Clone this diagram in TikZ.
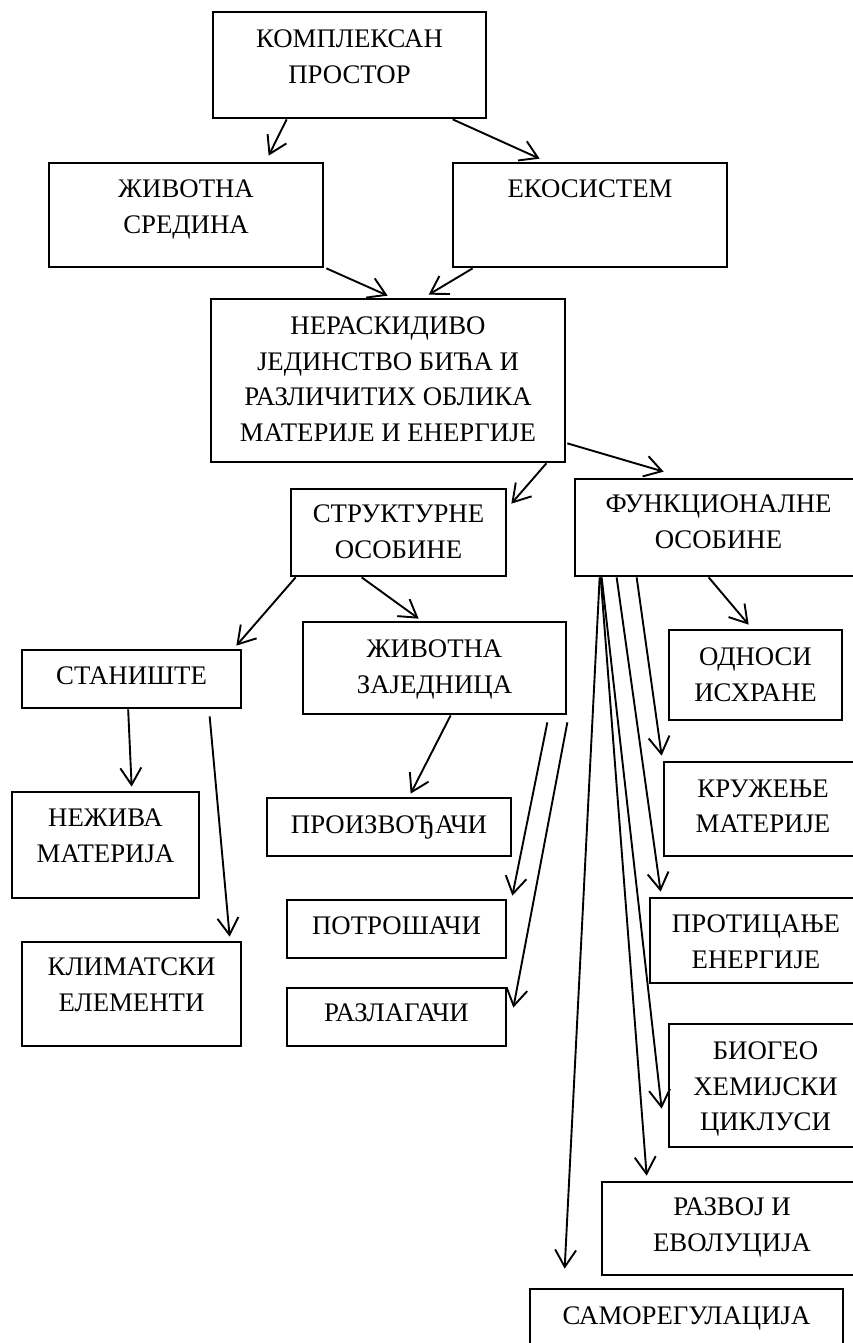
\documentclass[tikz,border=0pt]{standalone}
\usepackage{fontspec}
\setmainfont{Liberation Serif}
\usetikzlibrary{arrows.meta,calc,fit}
\tikzset{
  box/.style={draw, rectangle, line width=2.7pt, inner sep=0pt},
  lbl/.style={align=center, inner sep=0pt, anchor=north,
    font=\fontsize{26.8}{35.5}\selectfont},
  link/.style={line width=1.9pt, -{Straight Barb[length=17pt,width=21pt]}},
}
\begin{document}
\begin{tikzpicture}[x=1pt,y=-1pt]
\useasboundingbox (0,0) rectangle (853,1343);
\clip (0,0) rectangle (853,1343);

% boxes
\node[box, fit={(213,12) (486,118)}]   (kp)   {};
\node[box, fit={(49,163) (323,267)}]   (zs)   {};
\node[box, fit={(453,163) (727,267)}]  (eko)  {};
\node[box, fit={(211,299) (565,462)}]  (ner)  {};
\node[box, fit={(291,489) (506,576)}]  (str)  {};
\node[box, fit={(575,479) (862,576)}]  (fun)  {};
\node[box, fit={(22,650) (241,708)}]   (sta)  {};
\node[box, fit={(303,622) (566,714)}]  (zz)   {};
\node[box, fit={(669,630) (842,720)}]  (odn)  {};
\node[box, fit={(12,792) (199,898)}]   (nez)  {};
\node[box, fit={(267,798) (511,856)}]  (pro)  {};
\node[box, fit={(664,762) (862,856)}]  (kru)  {};
\node[box, fit={(287,900) (506,958)}]  (pot)  {};
\node[box, fit={(287,988) (506,1046)}] (raz)  {};
\node[box, fit={(22,942) (241,1046)}]  (kli)  {};
\node[box, fit={(650,898) (862,983)}]  (prot) {};
\node[box, fit={(669,1024) (862,1147)}] (bio) {};
\node[box, fit={(602,1182) (862,1275)}] (rev) {};
\node[box, fit={(530,1289) (843,1360)}] (sam) {};

% texts (top of the capitals about 18pt below the box top)
\node[lbl] (kp-l)   at ($(kp.north)+(0,19)$)   {КОМПЛЕКСАН\\ПРОСТОР};
\node[lbl] (zs-l)   at ($(zs.north)+(0,18)$)   {ЖИВОТНА\\СРЕДИНА};
\node[lbl] (eko-l)  at ($(eko.north)+(0,18)$)  {ЕКОСИСТЕМ};
\node[lbl] (ner-l)  at ($(ner.north)+(0,19)$)  {НЕРАСКИДИВО\\ЈЕДИНСТВО БИЋА И\\РАЗЛИЧИТИХ ОБЛИКА\\МАТЕРИЈЕ И ЕНЕРГИЈЕ};
\node[lbl] (str-l)  at ($(str.north)+(0,17)$)  {СТРУКТУРНЕ\\ОСОБИНЕ};
\node[lbl] (fun-l)  at ($(fun.north)+(0,17)$)  {ФУНКЦИОНАЛНЕ\\ОСОБИНЕ};
\node[lbl] (sta-l)  at ($(sta.north)+(0,18)$)  {СТАНИШТЕ};
\node[lbl] (zz-l)   at ($(zz.north)+(0,19)$)   {ЖИВОТНА\\ЗАЈЕДНИЦА};
\node[lbl] (odn-l)  at ($(odn.north)+(0,19)$)  {ОДНОСИ\\ИСХРАНЕ};
\node[lbl] (nez-l)  at ($(nez.north)+(0,18)$)  {НЕЖИВА\\МАТЕРИЈА};
\node[lbl] (pro-l)  at ($(pro.north)+(0,19)$)  {ПРОИЗВОЂАЧИ};
\node[lbl] (kru-l)  at ($(kru.north)+(0,19)$)  {КРУЖЕЊЕ\\МАТЕРИЈЕ};
\node[lbl] (pot-l)  at ($(pot.north)+(0,18)$)  {ПОТРОШАЧИ};
\node[lbl] (raz-l)  at ($(raz.north)+(0,17)$)  {РАЗЛАГАЧИ};
\node[lbl] (kli-l)  at ($(kli.north)+(0,17)$)  {КЛИМАТСКИ\\ЕЛЕМЕНТИ};
\node[lbl] (prot-l) at ($(prot.north)+(0,18)$) {ПРОТИЦАЊЕ\\ЕНЕРГИЈЕ};
\node[lbl] (bio-l)  at ($(bio.north)+(0,19)$)  {БИОГЕО\\ХЕМИЈСКИ\\ЦИКЛУСИ};
\node[lbl] (rev-l)  at ($(rev.north)+(0,17)$)  {РАЗВОЈ И\\ЕВОЛУЦИЈА};
\node[lbl] (sam-l)  at ($(sam.north)+(0,19)$)  {САМОРЕГУЛАЦИЈА};

% connectors
\draw[link] ($(kp.south west)+(75,0)$)   -- ($(zs.north west)+(221,-6)$);
\draw[link] ($(kp.south west)+(241,0)$)  -- ($(eko.north west)+(88,-3)$);
\draw[link] ($(zs.south east)+(2,0)$)    -- ($(ner.north west)+(178,-2)$);
\draw[link] ($(eko.south west)+(21,0)$)  -- ($(ner.north west)+(219,-3)$);
\draw[link] ($(ner.south east)+(1,-20)$) -- ($(fun.north west)+(90,-6)$);
\draw[link] ($(ner.south east)+(-20,0)$) -- ($(str.north east)+(4,16)$);
\draw[link] ($(str.south west)+(6,0)$)   -- ($(sta.north east)+(-6,-3)$);
\draw[link] ($(str.south west)+(72,0)$)  -- ($(zz.north west)+(117,-2)$);
\draw[link] ($(fun.south west)+(135,0)$) -- ($(odn.north west)+(81,-4)$);
\draw[link] ($(sta.south west)+(107.5,0)$) -- ($(nez.north west)+(121,-4)$);
\draw[link] ($(sta.south west)+(189,7)$) -- ($(kli.north west)+(209,-4)$);
\draw[link] ($(zz.south west)+(149,0)$)  -- ($(pro.north west)+(145,-3)$);
\draw[link] ($(zz.south east)+(-20,7)$)  -- ($(pot.north east)+(5,-3)$);
\draw[link] ($(zz.south east)+(0,7)$)    -- ($(raz.north east)+(6,21)$);
\draw[link] ($(fun.south west)+(63,0)$)  -- ($(kru.north west)+(-1,-5)$);
\draw[link] ($(fun.south west)+(43,0)$)  -- ($(prot.north west)+(12,-5)$);
\draw[link] ($(fun.south west)+(28,0)$)  -- ($(bio.north west)+(-6,86)$);
\draw[link] ($(fun.south west)+(27,0)$)  -- ($(rev.north west)+(46,-5)$);
\draw[link] ($(fun.south west)+(26,0)$)  -- ($(sam.north west)+(36,-19)$);
\end{tikzpicture}
\end{document}
